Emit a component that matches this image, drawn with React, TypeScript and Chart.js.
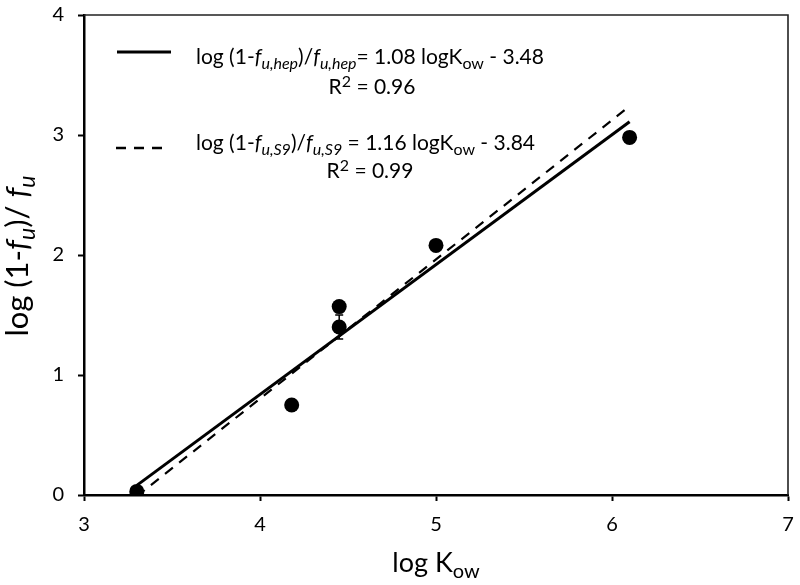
import { useEffect, useRef } from "react";
import { Chart, registerables } from "chart.js";

Chart.register(...registerables);

// ---- data ----
const logKow = [3.3, 4.18, 4.45, 4.45, 5.0, 6.1];
const logRatio = [0.03, 0.75, 1.57, 1.4, 2.08, 2.98];
const errorBars = [0, 0, 0, 0.1, 0, 0];

const hepLineX = [3.3, 6.1];
const hepLineY = [0.08, 3.11];
const s9LineX = [3.3, 6.1];
const s9LineY = [-0.01, 3.24];

const xMin = 3;
const xMax = 7;
const yMin = 0;
const yMax = 4;
const tickStep = 1;

type Seg = { t: string; i?: boolean; sub?: boolean; sup?: boolean };

const hepLegend: Seg[] = [
  { t: "log (1-" },
  { t: "f", i: true },
  { t: "u,hep", i: true, sub: true },
  { t: ")/" },
  { t: "f", i: true },
  { t: "u,hep", i: true, sub: true },
  { t: "= 1.08 logK" },
  { t: "ow", sub: true },
  { t: " - 3.48" },
];
const hepR2: Seg[] = [{ t: "R" }, { t: "2", sup: true }, { t: " = 0.96" }];
const s9Legend: Seg[] = [
  { t: "log (1-" },
  { t: "f", i: true },
  { t: "u,S9", i: true, sub: true },
  { t: ")/" },
  { t: "f", i: true },
  { t: "u,S9", i: true, sub: true },
  { t: " = 1.16 logK" },
  { t: "ow", sub: true },
  { t: " - 3.84" },
];
const s9R2: Seg[] = [{ t: "R" }, { t: "2", sup: true }, { t: " = 0.99" }];
const xTitle: Seg[] = [{ t: "log K" }, { t: "ow", sub: true }];
const yTitle: Seg[] = [
  { t: "log (1-" },
  { t: "f", i: true },
  { t: "u", i: true, sub: true },
  { t: ")/ " },
  { t: "f", i: true },
  { t: "u", i: true, sub: true },
];

const FONT = "Lato, 'Open Sans', sans-serif";
const SUB = 0.75;

function segFont(s: Seg, size: number) {
  const sz = s.sub || s.sup ? Math.round(size * SUB) : size;
  return `${s.i ? "italic " : ""}${sz}px ${FONT}`;
}

function drawRich(
  ctx: CanvasRenderingContext2D,
  segs: Seg[],
  x: number,
  y: number,
  size: number,
  align: "left" | "center"
) {
  let total = 0;
  for (const s of segs) {
    ctx.font = segFont(s, size);
    total += ctx.measureText(s.t).width;
  }
  let cx = align === "center" ? x - total / 2 : x;
  ctx.textAlign = "left";
  ctx.textBaseline = "alphabetic";
  ctx.fillStyle = "#000";
  for (const s of segs) {
    ctx.font = segFont(s, size);
    const dy = s.sub ? size * 0.22 : s.sup ? -size * 0.33 : 0;
    ctx.fillText(s.t, cx, y + dy);
    cx += ctx.measureText(s.t).width;
  }
}

const decorPlugin = {
  id: "decor",
  afterDatasetsDraw(chart: any) {
    const { ctx, chartArea, scales } = chart;
    const xs = scales.x;
    const ys = scales.y;
    ctx.save();
    // top & right frame
    ctx.strokeStyle = "#222";
    ctx.lineWidth = 1.6;
    ctx.beginPath();
    ctx.moveTo(chartArea.left, chartArea.top);
    ctx.lineTo(chartArea.right, chartArea.top);
    ctx.lineTo(chartArea.right, chartArea.bottom);
    ctx.stroke();

    // error bars
    ctx.strokeStyle = "#000";
    ctx.lineWidth = 1.5;
    for (let k = 0; k < logKow.length; k++) {
      const e = errorBars[k];
      if (!e) continue;
      const px = xs.getPixelForValue(logKow[k]);
      const top = ys.getPixelForValue(logRatio[k] + e);
      const bot = ys.getPixelForValue(logRatio[k] - e);
      ctx.beginPath();
      ctx.moveTo(px, top);
      ctx.lineTo(px, bot);
      ctx.moveTo(px - 4, top);
      ctx.lineTo(px + 4, top);
      ctx.moveTo(px - 4, bot);
      ctx.lineTo(px + 4, bot);
      ctx.stroke();
    }

    // legend samples
    ctx.lineWidth = 3;
    ctx.beginPath();
    ctx.moveTo(117, 52);
    ctx.lineTo(171, 52);
    ctx.stroke();
    ctx.lineWidth = 2.5;
    ctx.setLineDash([10, 8]);
    ctx.beginPath();
    ctx.moveTo(116, 148);
    ctx.lineTo(164, 148);
    ctx.stroke();
    ctx.setLineDash([]);

    // legend text
    drawRich(ctx, hepLegend, 196, 64, 21, "left");
    drawRich(ctx, hepR2, 372, 94, 21, "center");
    drawRich(ctx, s9Legend, 196, 150, 21, "left");
    drawRich(ctx, s9R2, 370, 178, 21, "center");

    // axis titles
    drawRich(ctx, xTitle, (chartArea.left + chartArea.right) / 2, 572, 27, "center");
    ctx.translate(28, 256);
    ctx.rotate(-Math.PI / 2);
    drawRich(ctx, yTitle, 0, 0, 31, "center");
    ctx.restore();
  },
};

export default function App() {
  const ref = useRef<HTMLCanvasElement | null>(null);

  useEffect(() => {
    if (!ref.current) return;
    const points = logKow.map((x, k) => ({ x, y: logRatio[k] }));
    const hep = hepLineX.map((x, k) => ({ x, y: hepLineY[k] }));
    const s9 = s9LineX.map((x, k) => ({ x, y: s9LineY[k] }));

    const axisCommon = {
      type: "linear" as const,
      grid: {
        display: true,
        drawOnChartArea: false,
        drawTicks: true,
        tickLength: 6,
        tickColor: "#000",
        tickWidth: 2,
        color: "#000",
      },
      border: { display: true, color: "#000", width: 2.5 },
    };

    const chart = new Chart(ref.current, {
      type: "scatter",
      data: {
        datasets: [
          {
            data: points,
            backgroundColor: "#000",
            borderColor: "#000",
            borderWidth: 0,
            pointRadius: 7.5,
            showLine: false,
            order: 0,
          },
          {
            data: hep,
            showLine: true,
            borderColor: "#000",
            borderWidth: 3,
            pointRadius: 0,
            order: 1,
          },
          {
            data: s9,
            showLine: true,
            borderColor: "#000",
            borderWidth: 2.2,
            borderDash: [10, 8],
            pointRadius: 0,
            order: 2,
          },
        ],
      },
      options: {
        responsive: false,
        animation: false,
        devicePixelRatio: 1,
        layout: { padding: { top: 15, right: 12, left: 0, bottom: 0 } },
        plugins: { legend: { display: false }, tooltip: { enabled: false } },
        scales: {
          x: {
            ...axisCommon,
            min: xMin,
            max: xMax,
            ticks: {
              stepSize: tickStep,
              color: "#000",
              font: { family: FONT, size: 20 },
              padding: 12,
            },
            afterFit: (s: any) => {
              s.height = 90;
              s.paddingLeft = 0;
              s.paddingRight = 0;
            },
          },
          y: {
            ...axisCommon,
            min: yMin,
            max: yMax,
            ticks: {
              stepSize: tickStep,
              color: "#000",
              font: { family: FONT, size: 20 },
              padding: 14,
            },
            afterFit: (s: any) => {
              s.width = 84;
              s.paddingTop = 0;
              s.paddingBottom = 0;
            },
          },
        },
      },
      plugins: [decorPlugin],
    });
    return () => chart.destroy();
  }, []);

  return (
    <div style={{ position: "absolute", left: 0, top: 0, width: 800, height: 585, background: "#fff" }}>
      <canvas ref={ref} width={800} height={585} />
    </div>
  );
}
